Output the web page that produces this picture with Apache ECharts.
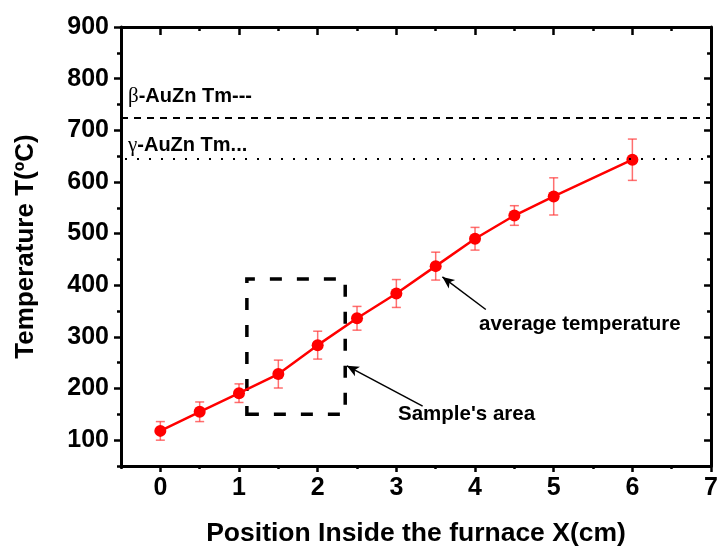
<!DOCTYPE html>
<html>
<head>
<meta charset="utf-8">
<script src="https://cdn.jsdelivr.net/npm/echarts@6/dist/echarts.min.js"></script>
<style>html,body{margin:0;padding:0;background:#fff}#c{width:721px;height:552px}</style>
</head>
<body>
<div id="c"></div>
<script>
// ---- data ----
const positions = [0, 0.5, 1, 1.5, 2, 2.5, 3, 3.5, 4, 4.5, 5, 6];
const temperatures = [118, 155, 191, 228, 284, 336, 384, 437, 490, 535, 572, 643];
const errors = [18, 19, 18, 27, 27, 23, 27, 27, 22, 19, 36, 40];
const xMajorTicks = [0, 1, 2, 3, 4, 5, 6, 7];
const xMinorTicks = [-0.5, 0.5, 1.5, 2.5, 3.5, 4.5, 5.5, 6.5];
const yMajorTicks = [100, 200, 300, 400, 500, 600, 700, 800, 900];
const yMinorTicks = [50, 150, 250, 350, 450, 550, 650, 750, 850];
const betaTm = 725;
const gammaTm = 645;
const sampleArea = [[1.1, 150], [2.35, 412]];
const avgArrow = [[3.585, 416], [4.137, 353]];
const sampleArrow = [[2.371, 244], [3.334, 166]];

const FONT = 'Liberation Sans, Arial, sans-serif';
const chart = echarts.init(document.getElementById('c'));

function xAxisDef(pos, ticks, len, inside, showLine, showLabel, extra) {
  return Object.assign({
    type: 'value', position: pos, min: -0.5, max: 7, gridIndex: 0,
    axisLine: { show: showLine, onZero: false, lineStyle: { color: '#000', width: 3 } },
    axisTick: { show: true, inside: inside, length: len, customValues: ticks, lineStyle: { color: '#000', width: 2.5 } },
    axisLabel: { show: showLabel, customValues: ticks, fontFamily: FONT, fontWeight: 'bold', fontSize: 25, color: '#000', margin: 10 },
    splitLine: { show: false }
  }, extra || {});
}
function yAxisDef(pos, ticks, len, inside, showLine, showLabel, extra) {
  return Object.assign({
    type: 'value', position: pos, min: 50, max: 900, gridIndex: 0,
    axisLine: { show: showLine, onZero: false, lineStyle: { color: '#000', width: 3 } },
    axisTick: { show: true, inside: inside, length: len, customValues: ticks, lineStyle: { color: '#000', width: 2.5 } },
    axisLabel: { show: showLabel, customValues: ticks, fontFamily: FONT, fontWeight: 'bold', fontSize: 25, color: '#000', margin: 12 },
    splitLine: { show: false }
  }, extra || {});
}

const option = {
  animation: false,
  backgroundColor: '#fff',
  grid: { left: 121, right: 4, top: 27, bottom: 85, containLabel: false },
  xAxis: [
    xAxisDef('bottom', xMajorTicks, 6, false, true, true, {
      name: 'Position Inside the furnace X(cm)', nameLocation: 'middle', nameGap: 54,
      nameTextStyle: { fontFamily: FONT, fontWeight: 'bold', fontSize: 26.5, color: '#000' }
    }),
    xAxisDef('bottom', xMinorTicks, 3, false, false, false),
    xAxisDef('top', xMajorTicks, 8, true, true, false),
    xAxisDef('top', xMinorTicks, 4, true, false, false)
  ],
  yAxis: [
    yAxisDef('left', yMajorTicks, 7, false, true, true, {
      name: 'Temperature T(ºC)', nameLocation: 'middle', nameGap: 82, nameRotate: 90,
      nameTextStyle: { fontFamily: FONT, fontWeight: 'bold', fontSize: 26, color: '#000' }
    }),
    yAxisDef('left', yMinorTicks, 4, false, false, false),
    yAxisDef('right', yMajorTicks, 7, true, true, false),
    yAxisDef('right', yMinorTicks, 4, true, false, false)
  ],
  series: [
    {
      type: 'custom', name: 'error', xAxisIndex: 0, yAxisIndex: 0, z: 2,
      data: positions.map((p, i) => [p, temperatures[i] - errors[i], temperatures[i] + errors[i]]),
      renderItem: function (params, api) {
        const lo = api.coord([api.value(0), api.value(1)]);
        const hi = api.coord([api.value(0), api.value(2)]);
        const w = 4.5;
        const st = { stroke: 'rgba(255,50,50,0.7)', lineWidth: 1.5 };
        return {
          type: 'group', children: [
            { type: 'line', shape: { x1: lo[0], y1: lo[1], x2: hi[0], y2: hi[1] }, style: st },
            { type: 'line', shape: { x1: lo[0] - w, y1: lo[1], x2: lo[0] + w, y2: lo[1] }, style: st },
            { type: 'line', shape: { x1: hi[0] - w, y1: hi[1], x2: hi[0] + w, y2: hi[1] }, style: st }
          ]
        };
      }
    },
    {
      type: 'line', name: 'average temperature', xAxisIndex: 0, yAxisIndex: 0, z: 3,
      data: positions.map((p, i) => [p, temperatures[i]]),
      symbol: 'circle', symbolSize: 12,
      lineStyle: { color: '#ff0000', width: 2.5 },
      itemStyle: { color: '#ff0000' },
      markLine: {
        silent: true, symbol: ['none', 'none'], label: { show: false },
        data: [
          { yAxis: betaTm, lineStyle: { color: '#000', width: 2, type: [7, 6] } },
          { yAxis: gammaTm, lineStyle: { color: '#000', width: 2, type: [2, 10], dashOffset: -4 } }
        ]
      },
      markArea: {
        silent: true,
        itemStyle: { color: 'rgba(0,0,0,0)', borderColor: '#000', borderWidth: 3.5, borderType: [12, 15] },
        data: [[{ coord: sampleArea[0] }, { coord: sampleArea[1] }]]
      }
    },
    {
      type: 'line', name: 'arrows', xAxisIndex: 0, yAxisIndex: 0, data: [], z: 4,
      markLine: {
        silent: true, symbol: ['arrow', 'none'], symbolSize: [8, 12], label: { show: false },
        lineStyle: { color: '#000', width: 1.5, type: 'solid' },
        data: [
          [{ coord: avgArrow[0] }, { coord: avgArrow[1] }],
          [{ coord: sampleArrow[0] }, { coord: sampleArrow[1] }]
        ]
      }
    }
  ],
  graphic: [
    { type: 'text', x: 128, y: 96, style: {
      text: '{g|β}{b|-AuZn Tm---}', verticalAlign: 'middle',
      rich: { g: { fontFamily: 'Liberation Serif, serif', fontSize: 21, fill: '#000' },
              b: { fontFamily: FONT, fontWeight: 'bold', fontSize: 20, fill: '#000' } } } },
    { type: 'text', x: 128, y: 145, style: {
      text: '{g|γ}{b|-AuZn Tm...}', verticalAlign: 'middle',
      rich: { g: { fontFamily: 'Liberation Serif, serif', fontSize: 21, fill: '#000' },
              b: { fontFamily: FONT, fontWeight: 'bold', fontSize: 20, fill: '#000' } } } },
    { type: 'text', x: 479, y: 324, style: { text: 'average temperature', verticalAlign: 'middle',
      font: 'bold 20.5px ' + FONT, fill: '#000' } },
    { type: 'text', x: 398, y: 414, style: { text: "Sample's area", verticalAlign: 'middle',
      font: 'bold 20.5px ' + FONT, fill: '#000' } }
  ]
};
chart.setOption(option);
</script>
</body>
</html>
